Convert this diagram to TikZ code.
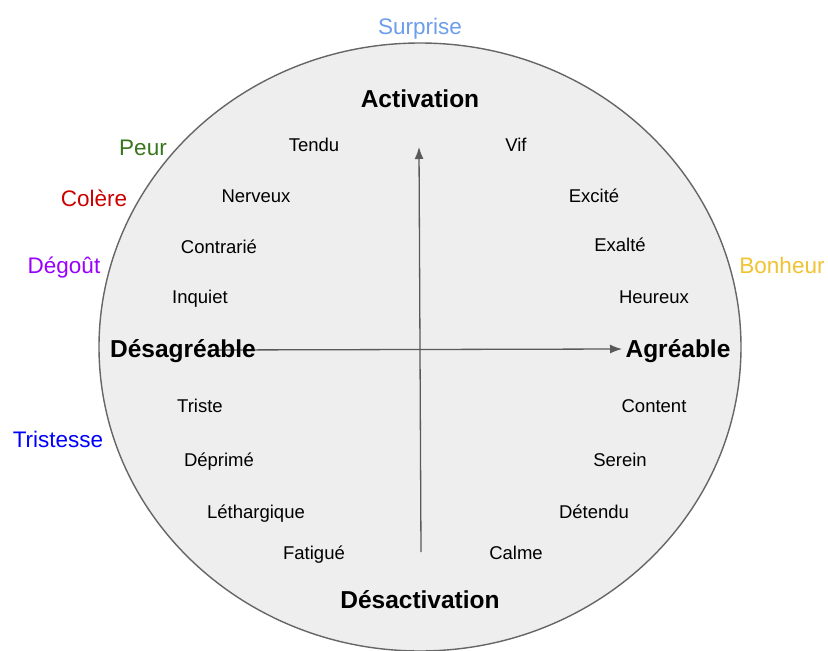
\documentclass[tikz,border=0pt]{standalone}
\usepackage{fontspec}
\setmainfont{Liberation Sans}
\usetikzlibrary{arrows.meta}
\definecolor{ringfill}{HTML}{EEEEEE}
\definecolor{ringline}{HTML}{666666}
\definecolor{axisline}{HTML}{595959}
\definecolor{csurprise}{HTML}{6D9EEB}
\definecolor{cpeur}{HTML}{38761D}
\definecolor{ccolere}{HTML}{CC0000}
\definecolor{cdegout}{HTML}{9900FF}
\definecolor{cbonheur}{HTML}{F1C232}
\definecolor{ctristesse}{HTML}{0000FF}
\tikzset{
  mood/.style={font=\fontsize{18.5}{20}\selectfont, text=black, inner sep=0pt, anchor=base, yshift=-6.8pt},
  pole/.style={font=\fontsize{24.5}{26}\selectfont\bfseries, text=black, inner sep=0pt, anchor=base, yshift=-8.8pt},
  emo/.style={font=\fontsize{22.5}{24}\selectfont, inner sep=0pt, anchor=base, yshift=-7.8pt},
  axis/.style={draw=axisline, line width=1.3pt, -{Latex[length=12pt,width=9pt]}}
}
\begin{document}
\begin{tikzpicture}[x=1pt,y=-1pt]
\useasboundingbox (0,0) rectangle (828,651);
\fill[white] (0,0) rectangle (828,651);
\draw[fill=ringfill, draw=ringline, line width=1.4pt] (420,347) ellipse [x radius=321, y radius=304];
% axes
\coordinate (vbot) at (421,552);
\coordinate (vtop) at (419,147);
\coordinate (hleft) at (215,350);
\coordinate (hright) at (622,349);
\draw[axis] (vbot) -- (vtop);
\draw[axis] (hleft) -- (hright);
% poles
\node[pole] (act) at (420,99) {Activation};
\node[pole] (desact) at (420,600) {Désactivation};
\node[pole] (desag) at (183,349) {Désagréable};
\node[pole] (agr) at (678,349) {Agréable};
% moods
\node[mood] (tendu) at (314,145) {Tendu};
\node[mood] (vif) at (516,145) {Vif};
\node[mood] (nerveux) at (256,196) {Nerveux};
\node[mood] (excite) at (594,196) {Excité};
\node[mood] (contrarie) at (219,247) {Contrarié};
\node[mood] (exalte) at (620,245) {Exalté};
\node[mood] (inquiet) at (200,297) {Inquiet};
\node[mood] (heureux) at (654,297) {Heureux};
\node[mood] (triste) at (200,406) {Triste};
\node[mood] (content) at (654,406) {Content};
\node[mood] (deprime) at (219,460) {Déprimé};
\node[mood] (serein) at (620,460) {Serein};
\node[mood] (lethargique) at (256,512) {Léthargique};
\node[mood] (detendu) at (594,512) {Détendu};
\node[mood] (fatigue) at (314,553) {Fatigué};
\node[mood] (calme) at (516,553) {Calme};
% emotions
\node[emo, text=csurprise] (surprise) at (420,27) {Surprise};
\node[emo, text=cpeur] (peur) at (143,148) {Peur};
\node[emo, text=ccolere] (colere) at (94,199) {Colère};
\node[emo, text=cdegout] (degout) at (64,266) {Dégoût};
\node[emo, text=cbonheur] (bonheur) at (782,266) {Bonheur};
\node[emo, text=ctristesse] (tristesse) at (58,440) {Tristesse};
\end{tikzpicture}
\end{document}
